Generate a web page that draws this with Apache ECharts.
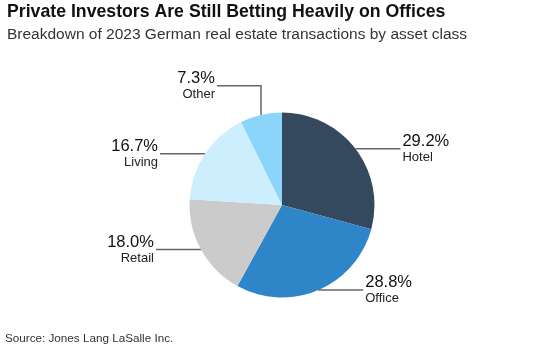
<!DOCTYPE html>
<html>
<head>
<meta charset="utf-8">
<script src="https://cdn.jsdelivr.net/npm/echarts@6/dist/echarts.min.js"></script>
<style>
  html, body { margin: 0; padding: 0; background: #fff; }
  #chart { width: 535px; height: 352px; }
</style>
</head>
<body>
<div id="chart"></div>
<script>
const categories = ["Hotel", "Office", "Retail", "Living", "Other"];
const shares = [29.2, 28.8, 18.0, 16.7, 7.3];
const sliceColors = ["#34495e", "#2e86c8", "#cbcbcb", "#cdeefd", "#8bd5fb"];

const FONT = "'Liberation Sans', Arial, sans-serif";

const myChart = echarts.init(document.getElementById("chart"));

const pieData = categories.map((name, i) => ({
  name,
  value: shares[i],
  itemStyle: { color: sliceColors[i] },
  // Other sits near the top, so its leader goes up first
  labelLine: name === "Other" ? { length: 30, length2: 44 } : undefined
}));

const option = {
  animation: false,
  title: [
    {
      text: "Private Investors Are Still Betting Heavily on Offices",
      left: 7,
      top: 3,
      padding: 0,
      textStyle: { fontFamily: FONT, fontSize: 17.7, fontWeight: "bold", color: "#111" }
    },
    {
      text: "Breakdown of 2023 German real estate transactions by asset class",
      left: 7,
      top: 27,
      padding: 0,
      textStyle: { fontFamily: FONT, fontSize: 15.5, fontWeight: "normal", color: "#333" }
    },
    {
      text: "Source: Jones Lang LaSalle Inc.",
      left: 5,
      top: 333,
      padding: 0,
      textStyle: { fontFamily: FONT, fontSize: 11.7, fontWeight: "normal", color: "#333" }
    }
  ],
  series: [
    {
      type: "pie",
      center: [282, 205],
      radius: [0, 92.5],
      startAngle: 90,
      clockwise: true,
      avoidLabelOverlap: false,
      itemStyle: { borderWidth: 0 },
      emphasis: { disabled: true },
      label: {
        show: true,
        position: "outside",
        distanceToLabelLine: 2,
        formatter: p => `{pct|${p.value.toFixed(1)}%}\n{name|${p.name}}`,
        rich: {
          pct: { fontFamily: FONT, fontSize: 16.5, color: "#111", lineHeight: 17 },
          name: { fontFamily: FONT, fontSize: 13, color: "#222", lineHeight: 15 }
        }
      },
      labelLine: {
        show: true,
        length: 0,
        length2: 45,
        lineStyle: { color: "#666", width: 1.5 }
      },
      labelLayout: params => {
        if (params.dataIndex !== 4 || !params.labelLinePoints) return {};
        const pts = params.labelLinePoints;
        const dx = pts[0][0] - pts[1][0];
        return {
          dx: dx,
          labelLinePoints: [
            [pts[0][0], pts[0][1]],
            [pts[0][0], pts[1][1]],
            [pts[2][0] + dx, pts[2][1]]
          ]
        };
      },
      data: pieData
    }
  ]
};

myChart.setOption(option);
</script>
</body>
</html>
